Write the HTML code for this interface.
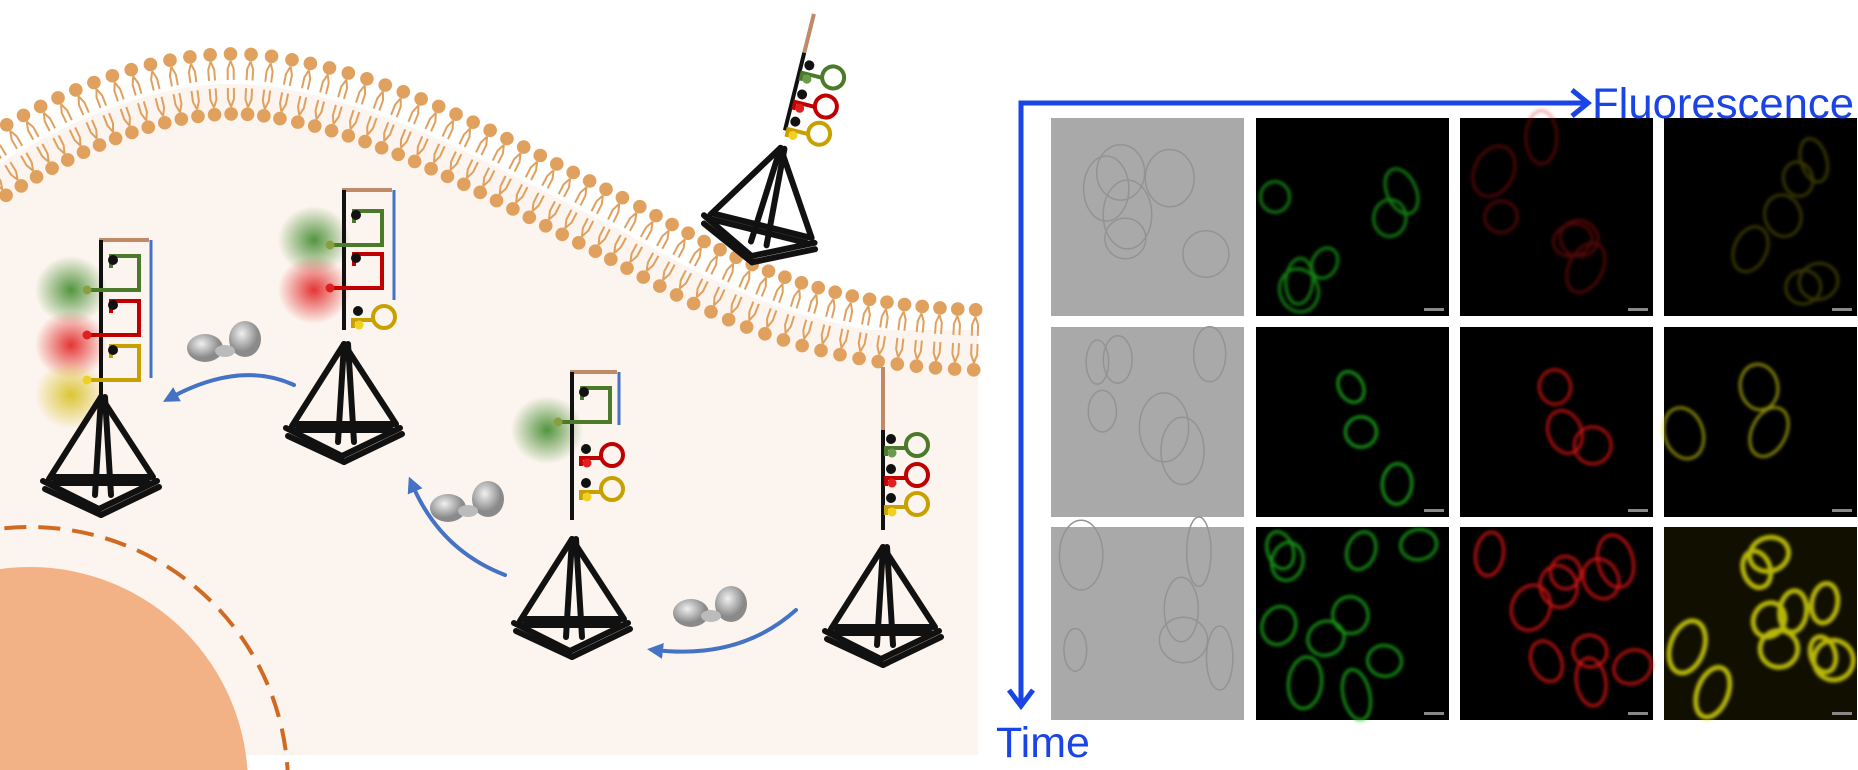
<!DOCTYPE html>
<html><head><meta charset="utf-8"><style>
html,body{margin:0;padding:0;background:#fff;width:1858px;height:770px;overflow:hidden;}
svg{display:block;}
text{font-family:"Liberation Sans",sans-serif;}
</style></head><body>
<svg id="s" width="1858" height="770" viewBox="0 0 1858 770" xmlns="http://www.w3.org/2000/svg">
<defs>
<radialGradient id="gG"><stop offset="0" stop-color="#3f8a2a" stop-opacity="0.9"/><stop offset="1" stop-color="#3f8a2a" stop-opacity="0"/></radialGradient>
<radialGradient id="gR"><stop offset="0" stop-color="#e02020" stop-opacity="0.9"/><stop offset="1" stop-color="#e02020" stop-opacity="0"/></radialGradient>
<radialGradient id="gY"><stop offset="0" stop-color="#d8c020" stop-opacity="0.9"/><stop offset="1" stop-color="#d8c020" stop-opacity="0"/></radialGradient>
<radialGradient id="pg" cx="0.4" cy="0.35"><stop offset="0" stop-color="#f0f0f0"/><stop offset="1" stop-color="#8a8a8a"/></radialGradient>
<filter id="bl"><feGaussianBlur stdDeviation="1.6"/></filter>
<marker id="ah" viewBox="0 0 10 10" refX="5" refY="5" markerWidth="4" markerHeight="4" orient="auto-start-reverse"><path d="M0,0 L10,5 L0,10 z" fill="#4472c4"/></marker>
</defs>
<path d="M-10,170 C100,100 200,70 290,90 C400,110 500,170 620,230 C720,285 800,335 980,340 L978,340 L978,755 L0,755 Z" fill="#fcf4ee"/>
<rect x="0" y="330" width="978" height="425" fill="#fcf4ee"/>
<path id="mem" d="M-10,170 C100,100 200,70 290,90 C400,110 500,170 620,230 C720,285 800,335 980,340" fill="none"/>
<g id="lip"></g>
<circle cx="30" cy="785" r="218" fill="#f2b285"/>
<circle cx="30" cy="785" r="258" fill="none" stroke="#d06a22" stroke-width="4" stroke-dasharray="22,12"/>
<g id="st"></g>
<g fill="none" stroke="#4472c4" stroke-width="4" stroke-linecap="round">
<path d="M796,610 Q740,660 655,650" marker-end="url(#ah)"/>
<path d="M505,575 Q440,550 412,484" marker-end="url(#ah)"/>
<path d="M294,385 Q240,360 170,398" marker-end="url(#ah)"/>
</g>
<g id="mic"></g>
<g fill="none" stroke="#1a44e6" stroke-width="5">
<path d="M1021,705 L1021,103 L1588,103"/>
<path d="M1572,90 L1588,103 L1572,116" stroke-width="5"/>
<path d="M1009,690 L1021,706 L1033,690" stroke-width="5"/>
</g>
<text x="1592" y="118" font-size="43" fill="#1a44e6" textLength="262" lengthAdjust="spacingAndGlyphs">Fluorescence</text>
<text x="996" y="757" font-size="43" fill="#1a44e6">Time</text>
</svg>
<script>
var NS="http://www.w3.org/2000/svg";
function el(p,t,a){var e=document.createElementNS(NS,t);for(var k in a)e.setAttribute(k,a[k]);p.appendChild(e);return e;}
var m=document.getElementById("mem"),L=m.getTotalLength(),lg=document.getElementById("lip"),C="#e0a05e";
for(var d=0;d<L;d+=18.5){var p=m.getPointAtLength(d),q=m.getPointAtLength(Math.min(L,d+1)),p0=m.getPointAtLength(Math.max(0,d-1));
var dx=q.x-p0.x,dy=q.y-p0.y,n=Math.hypot(dx,dy)||1;var nx=-dy/n,ny=dx/n,tx=dx/n,ty=dy/n;
[1,-1].forEach(function(sg){var hx=p.x+nx*30*sg,hy=p.y+ny*30*sg;el(lg,"circle",{cx:hx,cy:hy,r:6.8,fill:C});
[-1,1].forEach(function(o){el(lg,"path",{d:"M"+(p.x+nx*23*sg)+","+(p.y+ny*23*sg)+" L"+(p.x+nx*15*sg+tx*3*o)+","+(p.y+ny*15*sg+ty*3*o)+" L"+(p.x+nx*4*sg+tx*3*o)+","+(p.y+ny*4*sg+ty*3*o),stroke:C,"stroke-width":2,fill:"none"});});});}
var sg=document.getElementById("st");
function tet(g,x,y){var s="#111";var segs=[[0,0,-52,82],[0,0,52,80],[0,0,-6,98],[4,0,10,98],[-58,84,-2,112],[-2,112,56,84],[-56,92,0,118],[0,118,58,90],[-50,80,50,80],[-48,86,48,86]];
segs.forEach(function(a){el(g,"line",{x1:x+a[0],y1:y+a[1],x2:x+a[2],y2:y+a[3],stroke:s,"stroke-width":6,"stroke-linecap":"round"});});}
function hp(g,x,y,c,dc){el(g,"circle",{cx:x+8,cy:y-9,r:5,fill:"#111"});el(g,"path",{d:"M"+(x+3)+","+(y+8)+" L"+(x+3)+","+(y)+" L"+(x+24)+","+y,stroke:c,"stroke-width":4,fill:"none"});
el(g,"circle",{cx:x+34,cy:y-3,r:11,stroke:c,"stroke-width":4,fill:"none"});el(g,"circle",{cx:x+9,cy:y+5,r:4.5,fill:dc});}
function op(g,x,y,c,dc){el(g,"path",{d:"M"+(x-14)+","+y+" L"+(x+38)+","+y+" L"+(x+38)+","+(y-34)+" L"+(x+10)+","+(y-34)+" L"+(x+10)+","+(y-22),stroke:c,"stroke-width":4,fill:"none"});
el(g,"circle",{cx:x+12,cy:y-30,r:5,fill:"#111"});el(g,"circle",{cx:x-14,cy:y,r:4.5,fill:dc});}
function glow(g,x,y,id){el(g,"ellipse",{cx:x,cy:y,rx:36,ry:34,fill:"url(#"+id+")"});}
function stem(g,x,t,b){el(g,"line",{x1:x,y1:t,x2:x,y2:b,stroke:"#111","stroke-width":4});}
(function(){var g=el(sg,"g",{});var x=883,a=547;el(g,"line",{x1:x,y1:367,x2:x,y2:430,stroke:"#c08a68","stroke-width":4});stem(g,x,430,530);
hp(g,x,448,"#4a7a2a","#6a9a4a");hp(g,x,478,"#c00000","#e02020");hp(g,x,507,"#c8a000","#f0d020");tet(g,x,a);})();
(function(){var g=el(sg,"g",{});var x=572;glow(g,x-25,430,"gG");
el(g,"path",{d:"M"+x+",376 L"+x+",372 L"+(x+45)+",372",stroke:"#c08a68","stroke-width":4,fill:"none"});el(g,"line",{x1:x+47,y1:372,x2:x+47,y2:425,stroke:"#4472c4","stroke-width":3});
stem(g,x,372,520);op(g,x,422,"#4a7a2a","#8aa040");hp(g,x+6,458,"#c00000","#e02020");hp(g,x+6,492,"#c8a000","#f0d020");tet(g,x,539);})();
(function(){var g=el(sg,"g",{});var x=344;glow(g,x-30,240,"gG");glow(g,x-30,290,"gR");
el(g,"path",{d:"M"+x+",194 L"+x+",190 L"+(x+48)+",190",stroke:"#c08a68","stroke-width":4,fill:"none"});el(g,"line",{x1:x+50,y1:190,x2:x+50,y2:300,stroke:"#4472c4","stroke-width":3});
stem(g,x,190,330);op(g,x,245,"#4a7a2a","#8aa040");op(g,x,288,"#c00000","#e02020");hp(g,x+6,320,"#c8a000","#f0d020");tet(g,x,344);})();
(function(){var g=el(sg,"g",{});var x=101;glow(g,x-30,290,"gG");glow(g,x-30,345,"gR");glow(g,x-30,395,"gY");
el(g,"path",{d:"M"+x+",245 L"+x+",240 L"+(x+48)+",240",stroke:"#c08a68","stroke-width":4,fill:"none"});el(g,"line",{x1:x+50,y1:240,x2:x+50,y2:378,stroke:"#4472c4","stroke-width":3});
stem(g,x,240,400);op(g,x,290,"#4a7a2a","#8aa040");op(g,x,335,"#c00000","#e02020");op(g,x,380,"#c8a000","#f0d020");tet(g,x,397);})();
(function(){var g=el(sg,"g",{transform:"rotate(14 782 142)"});var x=782;el(g,"line",{x1:x,y1:10,x2:x,y2:50,stroke:"#c08a68","stroke-width":4});stem(g,x,50,130);
hp(g,x,70,"#4a7a2a","#6a9a4a");hp(g,x,100,"#c00000","#e02020");hp(g,x,128,"#c8a000","#f0d020");tet(g,x,148);})();
[[225,345],[468,505],[711,610]].forEach(function(p){var g=el(sg,"g",{});el(g,"ellipse",{cx:p[0]-20,cy:p[1]+3,rx:18,ry:14,fill:"url(#pg)"});el(g,"ellipse",{cx:p[0]+20,cy:p[1]-6,rx:16,ry:18,fill:"url(#pg)"});el(g,"ellipse",{cx:p[0],cy:p[1]+6,rx:10,ry:6,fill:"#bbb"});});
var mg=document.getElementById("mic");var cols=[1051,1256,1460,1664],rows=[118,327,527],W=193,H=[198,190,193];
var cc=["#20d020","#e01818","#e0e010"];var inten=[[0.6,0.35,0.25],[0.75,0.8,0.6],[0.7,0.85,1]];
var seed=3;function r(){seed=(seed*9301+49297)%233280;return seed/233280;}
rows.forEach(function(y,ri){cols.forEach(function(x,ci){
el(mg,"rect",{x:x,y:y,width:W,height:H[ri],fill:ci==0?"#a9a9a9":"#000"});
if(ci==0){for(var k=0;k<6;k++)el(mg,"ellipse",{cx:x+20+r()*150,cy:y+20+r()*H[ri]*0.8,rx:10+r()*15,ry:20+r()*20,fill:"none",stroke:"#939393","stroke-width":1.5});return;}
var g=el(mg,"g",{filter:"url(#bl)",opacity:inten[ri][ci-1]});var n=ri==2?10:(ri==1?3:6);
for(var k=0;k<n;k++){var cx=x+15+r()*(W-30),cy=y+15+r()*(H[ri]-30);if(ri==1&&k<2){cx=x+95+k*10;cy=y+60+k*45;}
el(g,"ellipse",{cx:cx,cy:cy,rx:12+r()*8,ry:15+r()*12,fill:"none",stroke:cc[ci-1],"stroke-width":ri==2&&ci==3?5:3,transform:"rotate("+(r()*60-30)+" "+cx+" "+cy+")"});}
if(ri==2&&ci==3)el(mg,"rect",{x:x,y:y,width:W,height:H[ri],fill:"#403a00",opacity:0.25});
el(mg,"rect",{x:x+W-25,y:y+H[ri]-8,width:20,height:3,fill:ci==0?"#111":"#888"});
});});
</script>
</body></html>
